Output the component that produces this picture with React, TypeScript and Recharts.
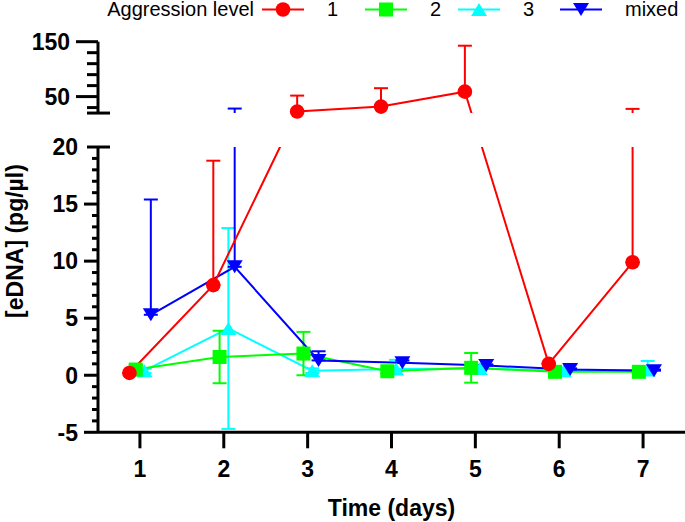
import {
  ComposedChart,
  Line,
  XAxis,
  YAxis,
  ErrorBar,
  ReferenceArea,
  ReferenceLine,
} from "recharts";

const FONT = '"Liberation Sans", Arial, Helvetica, sans-serif';

/* ---------- data ---------- */

const DAYS = [1, 2, 3, 4, 5, 6, 7];

// Aggression level 1
const LEVEL_1 = [0.2, 7.9, 22.7, 31.8, 59, 1.0, 9.9];
const LEVEL_1_ERR_LOW = [0, 0, 0, 0, 0, 0, 0];
const LEVEL_1_ERR_HIGH = [0, 10.9, 29.1, 33.5, 83.7, 0, 17.7];

// Aggression level 2
const LEVEL_2 = [0.5, 1.6, 1.9, 0.35, 0.65, 0.3, 0.3];
const LEVEL_2_ERR_LOW = [0.4, 2.3, 1.9, 0.2, 1.3, 0.1, 0.1];
const LEVEL_2_ERR_HIGH = [0.4, 2.3, 1.9, 0.2, 1.3, 0.1, 0.1];

// Aggression level 3
const LEVEL_3 = [0.4, 4.1, 0.4, 0.55, 0.6, 0.4, 0.45];
const LEVEL_3_ERR_LOW = [0.2, 8.8, 0.2, 0.2, 0.2, 0.1, 0.2];
const LEVEL_3_ERR_HIGH = [0.2, 8.8, 0.2, 0.8, 0.2, 0.1, 0.8];

// Mixed
const MIXED = [5.3, 9.5, 1.3, 1.1, 0.85, 0.5, 0.4];
const MIXED_ERR_LOW = [0, 0, 0, 0, 0, 0, 0];
const MIXED_ERR_HIGH = [10.1, 18.7, 0.8, 0.2, 0.1, 0.1, 0.1];

/* ---------- axis ticks ---------- */

const X_TICKS = [1, 2, 3, 4, 5, 6, 7];
const Y_TICKS_LOWER = [
  -5, -4, -3, -2, -1, 0, 1, 2, 3, 4, 5, 6, 7, 8, 9, 10, 11, 12, 13, 14, 15, 16,
  17, 18, 19, 20,
];
const Y_TICKS_UPPER = [20, 30, 50, 70, 90, 110, 130, 150];
const Y_LABELS = [-5, 0, 5, 10, 15, 20, 50, 150];

/* ---------- broken y axis ---------- */

const BREAK_AT = 20; // top of lower segment / bottom of upper segment
const GAP = 2.976; // empty band between the two segments (lower-axis units)
const UPPER_K = 0.0481; // upper segment compression
const Y_MIN = -5;
const Y_MAX_VALUE = 150;

const toUpper = (v: number) => BREAK_AT + GAP + (v - BREAK_AT) * UPPER_K;
const brk = (v: number) => (v <= BREAK_AT ? v : toUpper(v));

const Y_TICK_INFO = [
  ...Y_TICKS_LOWER.map((v) => ({ v, u: v, upper: false })),
  ...Y_TICKS_UPPER.map((v) => ({ v, u: toUpper(v), upper: true })),
];

/* ---------- layout ---------- */

const W = 685;
const H = 522;
const MARGIN_TOP = 41.7;
const PLOT_LEFT = 98;
const PLOT_BOTTOM = 432.3;
const X_AXIS_H = 70;

type Shape = "circle" | "square" | "triangle" | "triangleDown";

interface Series {
  name: string;
  color: string;
  shape: Shape;
  nudge: number;
  values: number[];
  low: number[];
  high: number[];
}

// drawing order (back to front)
const SERIES: Series[] = [
  { name: "3", color: "#00FFFF", shape: "triangle", nudge: 0.055, values: LEVEL_3, low: LEVEL_3_ERR_LOW, high: LEVEL_3_ERR_HIGH },
  { name: "2", color: "#00FF00", shape: "square", nudge: -0.05, values: LEVEL_2, low: LEVEL_2_ERR_LOW, high: LEVEL_2_ERR_HIGH },
  { name: "mixed", color: "#0000FF", shape: "triangleDown", nudge: 0.13, values: MIXED, low: MIXED_ERR_LOW, high: MIXED_ERR_HIGH },
  { name: "1", color: "#FF0000", shape: "circle", nudge: -0.125, values: LEVEL_1, low: LEVEL_1_ERR_LOW, high: LEVEL_1_ERR_HIGH },
];

const LEGEND_ORDER = ["1", "2", "3", "mixed"];
const LEGEND_LINE_X = [262, 365, 458, 560];

function buildRows(s: Series) {
  return DAYS.map((d, i) => {
    const v = s.values[i];
    const u = brk(v);
    return {
      x: d + s.nudge,
      u,
      err: [u - brk(v - s.low[i]), brk(v + s.high[i]) - u],
    };
  });
}

function Marker({
  cx,
  cy,
  shape,
  color,
}: {
  cx?: number;
  cy?: number;
  shape: Shape;
  color: string;
}) {
  if (cx == null || cy == null || isNaN(cx) || isNaN(cy)) return null;
  if (shape === "circle") return <circle cx={cx} cy={cy} r={7.3} fill={color} />;
  if (shape === "square")
    return <rect x={cx - 7} y={cy - 7} width={14} height={14} fill={color} />;
  const hw = 8;
  const hh = 6.5;
  const pts =
    shape === "triangle"
      ? `${cx},${cy - hh} ${cx - hw},${cy + hh} ${cx + hw},${cy + hh}`
      : `${cx},${cy + hh} ${cx - hw},${cy - hh} ${cx + hw},${cy - hh}`;
  return <polygon points={pts} fill={color} />;
}

function YTick(props: any) {
  const { x, y, payload } = props;
  const info = Y_TICK_INFO.find(
    (t) => Math.abs(t.u - payload.value) < 1e-6,
  );
  if (!info) return null;
  const isCap = info.v === BREAK_AT;
  const major = Y_LABELS.includes(info.v);
  const majorLen = info.upper ? 22 : 14;
  const minorLen = info.upper ? 11 : 6;
  const x1 = isCap ? x - 11 : x - (major ? majorLen : minorLen);
  const x2 = isCap ? x + 12 : x;
  const showLabel = major && !(info.upper && isCap);
  return (
    <g>
      <line x1={x1} x2={x2} y1={y} y2={y} stroke="#000" strokeWidth={3} />
      {showLabel && (
        <text
          x={x - majorLen - 6}
          y={y}
          dy="0.36em"
          textAnchor="end"
          fontFamily={FONT}
          fontWeight={700}
          fontSize={23}
          fill="#000"
        >
          {info.v}
        </text>
      )}
    </g>
  );
}

function Legend() {
  return (
    <svg
      width={W}
      height={30}
      style={{ position: "absolute", left: 0, top: 0, pointerEvents: "none" }}
    >
      <text
        x={254}
        y={16}
        textAnchor="end"
        fontFamily={FONT}
        fontSize={20}
        fill="#000"
      >
        Aggression level
      </text>
      {LEGEND_ORDER.map((name, i) => {
        const s = SERIES.find((d) => d.name === name)!;
        const x0 = LEGEND_LINE_X[i];
        return (
          <g key={name}>
            <line
              x1={x0}
              x2={x0 + 42}
              y1={9.5}
              y2={9.5}
              stroke={s.color}
              strokeWidth={2}
            />
            <Marker cx={x0 + 21} cy={9.5} shape={s.shape} color={s.color} />
            <text
              x={x0 + 65}
              y={16}
              fontFamily={FONT}
              fontSize={20}
              fill="#000"
            >
              {name}
            </text>
          </g>
        );
      })}
    </svg>
  );
}

export default function App() {
  const plotH = PLOT_BOTTOM - MARGIN_TOP;
  const yMax = toUpper(Y_MAX_VALUE);
  return (
    <div
      style={{
        position: "absolute",
        left: 0,
        top: 0,
        width: W,
        height: H,
        background: "#fff",
      }}
    >
      <ComposedChart
        width={W}
        height={H}
        margin={{
          top: MARGIN_TOP,
          right: 0,
          bottom: H - PLOT_BOTTOM - X_AXIS_H,
          left: PLOT_LEFT - 60,
        }}
      >
        {SERIES.map((s) => (
          <Line
            key={`curve-${s.name}`}
            data={buildRows(s)}
            dataKey="u"
            type="linear"
            stroke={s.color}
            strokeWidth={2}
            dot={false}
            activeDot={false}
            legendType="none"
            isAnimationActive={false}
          >
            {/* width is the half-width of the caps */}
            <ErrorBar
              dataKey="err"
              direction="y"
              width={7}
              stroke={s.color}
              strokeWidth={2}
              isAnimationActive={false}
            />
          </Line>
        ))}

        {/* blank band of the axis break */}
        <ReferenceArea
          x1={0.5}
          x2={7.5}
          y1={BREAK_AT}
          y2={BREAK_AT + GAP}
          fill="#fff"
          fillOpacity={1}
          stroke="none"
          zIndex={450}
        />

        {SERIES.map((s) => (
          <Line
            key={`marks-${s.name}`}
            data={buildRows(s)}
            dataKey="u"
            type="linear"
            stroke="none"
            activeDot={false}
            legendType="none"
            isAnimationActive={false}
            zIndex={600}
            dot={(p: any) => (
              <Marker
                key={`${s.name}-${p.index}`}
                cx={p.cx}
                cy={p.cy}
                shape={s.shape}
                color={s.color}
              />
            )}
          />
        ))}

        <ReferenceLine
          segment={[
            { x: 0.5, y: Y_MIN },
            { x: 0.5, y: BREAK_AT },
          ]}
          stroke="#000"
          strokeWidth={3}
          zIndex={500}
        />
        <ReferenceLine
          segment={[
            { x: 0.5, y: BREAK_AT + GAP },
            { x: 0.5, y: yMax },
          ]}
          stroke="#000"
          strokeWidth={3}
          zIndex={500}
        />

        <XAxis
          dataKey="x"
          type="number"
          domain={[0.5, 7.5]}
          ticks={X_TICKS}
          interval={0}
          height={X_AXIS_H}
          allowDataOverflow
          axisLine={{ stroke: "#000", strokeWidth: 3 }}
          tickLine={{ stroke: "#000", strokeWidth: 3 }}
          tickSize={16}
          tickMargin={12}
          tick={{
            fill: "#000",
            fontSize: 23,
            fontWeight: 700,
            fontFamily: FONT,
          }}
          label={() => (
            <text
              x={PLOT_LEFT + (W - PLOT_LEFT) / 2}
              y={515.5}
              textAnchor="middle"
              fontFamily={FONT}
              fontWeight={700}
              fontSize={23}
              fill="#000"
            >
              Time (days)
            </text>
          )}
        />
        <YAxis
          type="number"
          width={60}
          domain={[Y_MIN, yMax]}
          allowDataOverflow
          ticks={Y_TICK_INFO.map((t) => t.u)}
          interval={0}
          axisLine={false}
          tickLine={false}
          tickSize={0}
          tickMargin={0}
          tick={<YTick />}
          label={() => (
            <text
              transform={`translate(23, ${MARGIN_TOP + plotH / 2 + 4}) rotate(-90)`}
              textAnchor="middle"
              fontFamily={FONT}
              fontWeight={700}
              fontSize={23}
              fill="#000"
            >
              [eDNA] (pg/µl)
            </text>
          )}
        />
      </ComposedChart>
      <Legend />
    </div>
  );
}
